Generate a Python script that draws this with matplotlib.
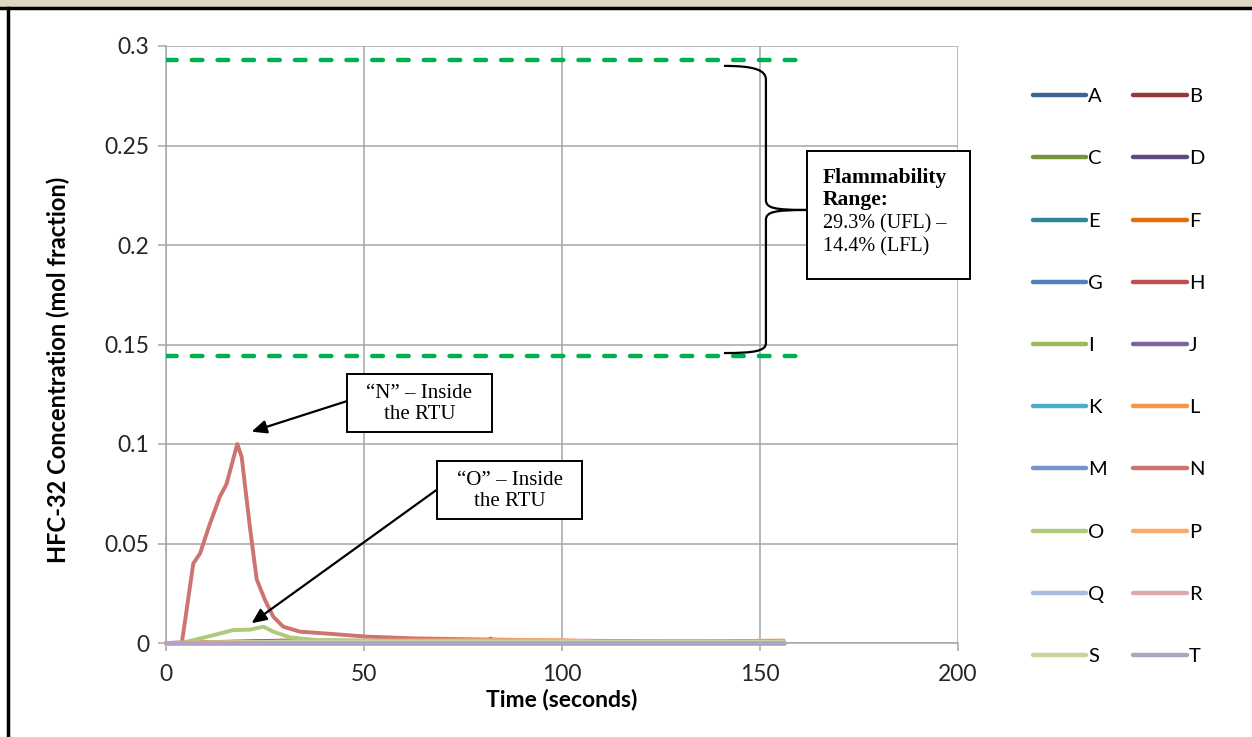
import matplotlib
matplotlib.use("Agg")
import matplotlib.pyplot as plt
from matplotlib.path import Path
from matplotlib.patches import PathPatch, Rectangle

# ---- data ----
labels = list("ABCDEFGHIJKLMNOPQRST")
colors = ["#3C6496", "#953735", "#77933C", "#604A7B", "#31859C", "#E46C0A",
          "#4F81BD", "#C0504D", "#9BBB59", "#8064A2", "#4BACC6", "#F79646",
          "#7394CD", "#CD7371", "#AFC97A", "#F9AB6B", "#A9BCE0", "#DDAAAA",
          "#C3D69B", "#B3A2C7"]

t_n = [0, 4, 6.9, 8.6, 11.1, 13.6, 15.3, 18.0, 19.1, 21.2, 22.9, 25.0, 27.1,
       29.6, 33.8, 42.2, 50.7, 63, 76, 100, 130, 156]
n_vals = [0, 0, 0.040, 0.045, 0.060, 0.0735, 0.080, 0.100, 0.0936, 0.058,
          0.032, 0.0216, 0.0132, 0.0082, 0.0057, 0.0045, 0.0032, 0.0023,
          0.0019, 0.0012, 0.0008, 0.0006]

t_o = [0, 4, 11.1, 17, 21.2, 24.6, 27.1, 31.3, 38, 60, 100, 156]
o_vals = [0, 0, 0.0035, 0.0065, 0.0067, 0.0082, 0.0057, 0.0028, 0.0015,
          0.0010, 0.0008, 0.0006]

# near-zero series (sparse readings)
t_low = [0, 30, 60, 80, 81, 82, 83, 100, 110, 111, 156]
low_series = {
    "A": [0, 0, 0, 0, 0, 0, 0, 0, 0, 0, 0],
    "B": [0, 0.0012, 0.0010, 0.0010, 0.0010, 0.0010, 0.0010, 0.0005, 0.0004, 0.0003, 0.0003],
    "C": [0, 0.0003, 0.0003, 0.0003, 0.0003, 0.0003, 0.0003, 0.0003, 0.0003, 0.0003, 0.0003],
    "D": [0, 0, 0, 0, 0, 0, 0, 0.0010, 0.0010, 0, 0],
    "E": [0, 0, 0, 0, 0, 0.0022, 0, 0, 0, 0, 0],
    "F": [0, 0.0002, 0.0002, 0.0002, 0.0002, 0.0002, 0.0002, 0.0002, 0.0002, 0.0002, 0.0002],
    "G": [0, 0, 0, 0, 0, 0, 0, 0, 0, 0, 0],
    "H": [0, 0.0008, 0.0008, 0.0012, 0.0012, 0.0012, 0.0010, 0.0006, 0.0004, 0.0003, 0.0003],
    "I": [0, 0.0004, 0.0004, 0.0004, 0.0004, 0.0004, 0.0004, 0.0004, 0.0004, 0.0004, 0.0004],
    "J": [0, 0, 0, 0, 0, 0, 0, 0.0009, 0.0009, 0, 0],
    "K": [0, 0, 0, 0, 0, 0, 0, 0, 0, 0, 0],
    "L": [0, 0.0004, 0.0004, 0.0004, 0.0004, 0.0004, 0.0004, 0.0004, 0.0004, 0.0004, 0.0012],
    "M": [0, 0, 0, 0, 0, 0, 0, 0, 0, 0, 0],
    "P": [0, 0.0008, 0.0012, 0.0014, 0.0014, 0.0014, 0.0014, 0.0014, 0.0006, 0.0005, 0.0005],
    "Q": [0, 0, 0, 0, 0, 0, 0, 0, 0, 0, 0],
    "R": [0, 0.0002, 0.0002, 0.0002, 0.0002, 0.0002, 0.0002, 0.0002, 0.0002, 0.0002, 0.0002],
    "S": [0, 0.0006, 0.0006, 0.0006, 0.0006, 0.0006, 0.0006, 0.0006, 0.0006, 0.0006, 0.0006],
    "T": [0, 0, 0, 0, 0, 0, 0, 0, 0, 0, 0],
}

ufl = 0.293
lfl = 0.144
limit_x = [0, 160]

x_ticks = [0, 50, 100, 150, 200]
y_ticks = [0, 0.05, 0.1, 0.15, 0.2, 0.25, 0.3]
y_tick_labels = ["0", "0.05", "0.1", "0.15", "0.2", "0.25", "0.3"]

# ---- figure ----
W, H = 1252, 737
fig = plt.figure(figsize=(W / 100, H / 100), dpi=100)


def fx(px):
    return px / W


def fy(py):
    return 1 - py / H


# beige header band and black frame lines
fig.patches.append(Rectangle((0, fy(7)), 1, 7 / H, transform=fig.transFigure,
                             facecolor="#DDD8C2", edgecolor="none", zorder=0))
fig.add_artist(plt.Line2D([0, 1], [fy(8), fy(8)], transform=fig.transFigure,
                          color="black", lw=2.5))
fig.add_artist(plt.Line2D([fx(8), fx(8)], [0, fy(8)], transform=fig.transFigure,
                          color="black", lw=2.5))

ax = fig.add_axes([fx(166), fy(643), 792 / W, 597 / H])
ax.set_xlim(0, 200)
ax.set_ylim(0, 0.3)
ax.set_xticks(x_ticks)
ax.set_yticks(y_ticks)
ax.set_yticklabels(y_tick_labels)
ax.grid(True, color="#A6A6A6", lw=1.1)
ax.set_axisbelow(True)
for side in ["top", "right"]:
    ax.spines[side].set_visible(False)
for side in ["left", "bottom"]:
    ax.spines[side].set_color("#A6A6A6")
    ax.spines[side].set_linewidth(1.1)
ax.tick_params(colors="#A6A6A6", labelcolor="#262626", length=6, width=1.1,
               labelsize=16.5, pad=6)
for lab in ax.get_xticklabels() + ax.get_yticklabels():
    lab.set_family("Lato")
ax.tick_params(axis="x", pad=9)

lines = {}
for name, col in zip(labels, colors):
    if name == "N":
        xs, ys = t_n, n_vals
    elif name == "O":
        xs, ys = t_o, o_vals
    else:
        xs, ys = t_low, low_series[name]
    lw = 3.4 if name == "T" else 2.8
    z = 3.5 if name == "T" else 3
    lines[name], = ax.plot(xs, ys, color=col, lw=lw, label=name, zorder=z,
                           solid_capstyle="round", solid_joinstyle="round",
                           clip_on=False)

for level in [ufl, lfl]:
    ax.plot(limit_x, [level, level], color="#00B050", lw=3.2,
            linestyle=(0, (2.4, 3.4)), dash_capstyle="round", zorder=4)

ax.set_xlabel("Time (seconds)", fontsize=16.5, fontweight="bold", family="Lato")
ax.set_ylabel("HFC-32 Concentration (mol fraction)", fontsize=17,
              fontweight="bold", family="Lato")
ax.xaxis.set_label_coords(0.5, -46 / 597)
ax.yaxis.set_label_coords(-96 / 792, 0.457)

# callout boxes with arrows
serif = "Liberation Serif"
arrow = dict(arrowstyle="-|>,head_length=0.9,head_width=0.4", color="black",
             lw=1.6, shrinkA=0, shrinkB=0)
for (x0, y0, x1, y1), txt in [((347, 374, 492, 432), "\u201cN\u201d \u2013 Inside\nthe RTU"),
                              ((437, 461, 582, 519), "\u201cO\u201d \u2013 Inside\nthe RTU")]:
    fig.patches.append(Rectangle((fx(x0), fy(y1)), (x1 - x0) / W, (y1 - y0) / H,
                                 transform=fig.transFigure, facecolor="white",
                                 edgecolor="black", lw=1.4, zorder=6))
    fig.text(fx((x0 + x1) / 2), fy((y0 + y1) / 2 + 1), txt, ha="center", va="center",
             fontsize=15, family=serif, linespacing=1.2, zorder=7)

ax.annotate("", xy=(21.6, 0.1062), xytext=(45.6, 0.1215), arrowprops=arrow,
            annotation_clip=False)
ax.annotate("", xy=(21.6, 0.0099), xytext=(68.3, 0.0769), arrowprops=arrow,
            annotation_clip=False)

# curly brace
verts = [(140.9, 0.2900), (148.5, 0.2900), (151.5, 0.2880), (151.5, 0.2830),
         (151.5, 0.2226),
         (151.5, 0.2186), (153.5, 0.2176), (161.9, 0.2176),
         (153.5, 0.2176), (151.5, 0.2166), (151.5, 0.2126),
         (151.5, 0.1507),
         (151.5, 0.1467), (148.5, 0.1457), (140.9, 0.1457)]
codes = [Path.MOVETO, Path.CURVE4, Path.CURVE4, Path.CURVE4, Path.LINETO,
         Path.CURVE4, Path.CURVE4, Path.CURVE4,
         Path.CURVE4, Path.CURVE4, Path.CURVE4,
         Path.LINETO,
         Path.CURVE4, Path.CURVE4, Path.CURVE4]
ax.add_patch(PathPatch(Path(verts, codes), facecolor="none", edgecolor="black",
                       lw=1.6, zorder=5, clip_on=False))

# flammability box
fig.patches.append(Rectangle((fx(807), fy(279)), 163 / W, 128 / H,
                             transform=fig.transFigure, facecolor="white",
                             edgecolor="black", lw=1.4, zorder=6))
fig.text(fx(823), fy(168), "Flammability\nRange:", fontsize=15.5,
         fontweight="bold", family=serif, va="top", ha="left",
         linespacing=1.15, zorder=7)
fig.text(fx(823), fy(214), "29.3% (UFL) \u2013\n14.4% (LFL)", fontsize=14.5,
         family=serif, va="top", ha="left", linespacing=1.25, zorder=7)

# legend: two columns, row-major order
order = labels[0::2] + labels[1::2]
leg = fig.legend([lines[k] for k in order], order, loc="upper left",
                 bbox_to_anchor=(fx(1025), fy(80)), ncol=2, frameon=False,
                 prop={"family": "Lato", "size": 14.5}, handlelength=2.65,
                 handletextpad=0.1, columnspacing=1.3, labelspacing=2.24,
                 borderaxespad=0)
for h in leg.get_lines():
    h.set_linewidth(3.2)
    h.set_solid_capstyle("round")

fig.savefig("out.png", dpi=100, facecolor="white")
